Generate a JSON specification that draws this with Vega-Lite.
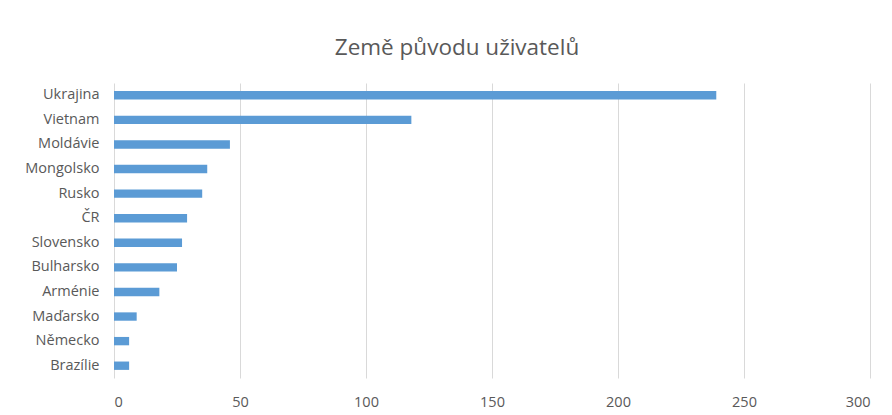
{
  "$schema": "https://vega.github.io/schema/vega-lite/v6.json",
  "autosize": "none",
  "width": 756,
  "height": 295,
  "padding": {"left": 114, "top": 83, "right": 22, "bottom": 37},
  "background": "white",
  "title": {
    "text": "Země původu uživatelů",
    "font": "Open Sans",
    "fontSize": 22.5,
    "fontWeight": "normal",
    "color": "#595959",
    "anchor": "middle",
    "dx": -35,
    "offset": 24
  },
  "data": {
    "values": [
      {"zeme": "Ukrajina", "pocet": 239},
      {"zeme": "Vietnam", "pocet": 118},
      {"zeme": "Moldávie", "pocet": 46},
      {"zeme": "Mongolsko", "pocet": 37},
      {"zeme": "Rusko", "pocet": 35},
      {"zeme": "ČR", "pocet": 29},
      {"zeme": "Slovensko", "pocet": 27},
      {"zeme": "Bulharsko", "pocet": 25},
      {"zeme": "Arménie", "pocet": 18},
      {"zeme": "Maďarsko", "pocet": 9},
      {"zeme": "Německo", "pocet": 6},
      {"zeme": "Brazílie", "pocet": 6}
    ]
  },
  "mark": {"type": "bar", "color": "#5B9BD5"},
  "encoding": {
    "y": {
      "field": "zeme",
      "type": "nominal",
      "sort": null,
      "scale": {"paddingInner": 0.66, "paddingOuter": 0.33},
      "axis": {
        "title": null,
        "domain": false,
        "ticks": false,
        "labelFont": "Open Sans",
        "labelFontSize": 14.5,
        "labelColor": "#595959",
        "labelPadding": 15
      }
    },
    "x": {
      "field": "pocet",
      "type": "quantitative",
      "scale": {"domain": [0, 300], "nice": false},
      "axis": {
        "title": null,
        "values": [0, 50, 100, 150, 200, 250, 300],
        "domain": false,
        "ticks": false,
        "grid": true,
        "gridColor": "#d9d9d9",
        "labelFont": "Open Sans",
        "labelFontSize": 14.5,
        "labelColor": "#595959",
        "labelPadding": 17
      }
    }
  },
  "config": {"view": {"stroke": null}}
}
